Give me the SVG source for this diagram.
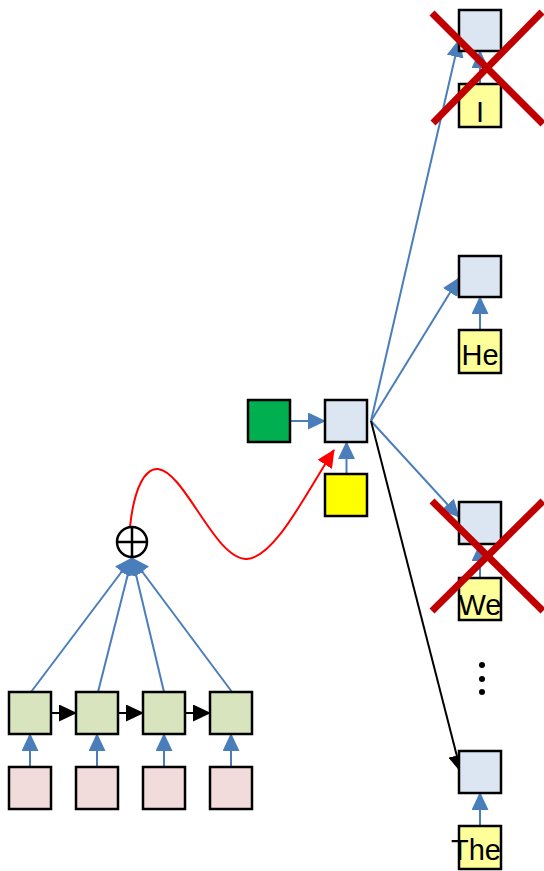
<svg xmlns="http://www.w3.org/2000/svg" width="544" height="871" viewBox="0 0 544 871">
<style>
.box{stroke:#000;stroke-width:2.5}
.lb{fill:#dce6f2}
.ly{fill:#ffff99}
.gr{fill:#d7e4bd}
.pk{fill:#f2dcdb}
.bl{stroke:#4a7ebb;stroke-width:2;fill:none;marker-end:url(#ab)}
.bk{stroke:#000;stroke-width:2;fill:none;marker-end:url(#ak)}
.x{stroke:#c00000;stroke-width:7;stroke-linecap:butt}
.t{font-family:"Liberation Sans",Arial,sans-serif;font-size:29px;fill:#000;text-anchor:middle}
</style>
<defs>
<marker id="ab" markerUnits="userSpaceOnUse" markerWidth="18" markerHeight="17" refX="17" refY="8.5" orient="auto" viewBox="0 0 18 17"><path d="M0,0 L18,8.5 L0,17 z" fill="#4a7ebb"/></marker>
<marker id="ak" markerUnits="userSpaceOnUse" markerWidth="18" markerHeight="17" refX="17" refY="8.5" orient="auto" viewBox="0 0 18 17"><path d="M0,0 L18,8.5 L0,17 z" fill="#000"/></marker>
<marker id="ar" markerUnits="userSpaceOnUse" markerWidth="18" markerHeight="17" refX="17" refY="8.5" orient="auto" viewBox="0 0 18 17"><path d="M0,0 L18,8.5 L0,17 z" fill="#ff0000"/></marker>
</defs>
<g id="connectors">
<line class="bl" x1="30" y1="767" x2="30" y2="734"/>
<line class="bl" x1="97" y1="767" x2="97" y2="734"/>
<line class="bl" x1="164" y1="767" x2="164" y2="734"/>
<line class="bl" x1="231" y1="767" x2="231" y2="734"/>
<line class="bk" x1="52" y1="713" x2="76" y2="713"/>
<line class="bk" x1="119" y1="713" x2="143" y2="713"/>
<line class="bk" x1="186" y1="713" x2="210" y2="713"/>
<line class="bl" x1="31" y1="692" x2="132" y2="558"/>
<line class="bl" x1="98" y1="692" x2="132" y2="558"/>
<line class="bl" x1="164" y1="692" x2="132" y2="558"/>
<line class="bl" x1="232" y1="692" x2="132" y2="558"/>
<path d="M130,527 C134,488 145,468 158,469 C185,472 215,560 247,559 C275,557 305,495 334,450" fill="none" stroke="#ff0000" stroke-width="2" marker-end="url(#ar)"/>
<line class="bl" x1="290" y1="421" x2="325" y2="421"/>
<line class="bl" x1="346.5" y1="474" x2="346.5" y2="442"/>
<line class="bl" x1="371" y1="421" x2="459" y2="40"/>
<line class="bl" x1="371" y1="421" x2="459" y2="278"/>
<line class="bl" x1="371" y1="421" x2="459" y2="517"/>
<line class="bk" x1="371" y1="421" x2="461" y2="772"/>
<line class="bl" x1="480" y1="84" x2="480" y2="51"/>
<line class="bl" x1="480" y1="330" x2="480" y2="297"/>
<line class="bl" x1="480" y1="578" x2="480" y2="544"/>
<line class="bl" x1="480" y1="826" x2="480" y2="793"/>
</g>
<g id="enc1"><rect class="box gr" x="9" y="692" width="42" height="42"/></g>
<g id="enc2"><rect class="box gr" x="76" y="692" width="42" height="42"/></g>
<g id="enc3"><rect class="box gr" x="143" y="692" width="42" height="42"/></g>
<g id="enc4"><rect class="box gr" x="210" y="692" width="42" height="42"/></g>
<g id="in1"><rect class="box pk" x="9" y="767" width="42" height="42"/></g>
<g id="in2"><rect class="box pk" x="76" y="767" width="42" height="42"/></g>
<g id="in3"><rect class="box pk" x="143" y="767" width="42" height="42"/></g>
<g id="in4"><rect class="box pk" x="210" y="767" width="42" height="42"/></g>
<g id="oplus">
<circle cx="132" cy="542" r="15" fill="#fff" stroke="#000" stroke-width="2.5"/>
<line x1="117" y1="542" x2="147" y2="542" stroke="#000" stroke-width="2.5"/>
<line x1="132" y1="527" x2="132" y2="557" stroke="#000" stroke-width="2.5"/>
</g>
<g id="context"><rect class="box" x="248" y="400" width="42" height="42" fill="#00b050"/></g>
<g id="dec"><rect class="box lb" x="325" y="400" width="42" height="42"/></g>
<g id="decin"><rect class="box" x="325" y="474" width="42" height="42" fill="#ffff00"/></g>
<g id="outI"><rect class="box lb" x="459" y="10" width="42" height="41"/></g>
<g id="wI"><rect class="box ly" x="459" y="84" width="42" height="43"/><text class="t" x="480" y="122">I</text></g>
<g id="outHe"><rect class="box lb" x="459" y="256" width="42" height="41"/></g>
<g id="wHe"><rect class="box ly" x="459" y="330" width="42" height="43"/><text class="t" x="480" y="365">He</text></g>
<g id="outWe"><rect class="box lb" x="459" y="502" width="42" height="42"/></g>
<g id="wWe"><rect class="box ly" x="459" y="578" width="42" height="42"/><text class="t" x="480" y="615">We</text></g>
<g id="outThe"><rect class="box lb" x="459" y="751" width="42" height="42"/></g>
<g id="wThe"><rect class="box ly" x="459" y="826" width="42" height="43"/><text class="t" x="476" y="860">The</text></g>
<g id="dots" fill="#000">
<circle cx="482" cy="665" r="3"/>
<circle cx="482" cy="679" r="3"/>
<circle cx="482" cy="692" r="3"/>
</g>
<g id="crossI">
<line class="x" x1="432" y1="13" x2="543" y2="124"/>
<line class="x" x1="542" y1="12" x2="433" y2="123"/>
</g>
<g id="crossWe">
<line class="x" x1="432" y1="501" x2="543" y2="611"/>
<line class="x" x1="543" y1="501" x2="432" y2="611"/>
</g>
</svg>
